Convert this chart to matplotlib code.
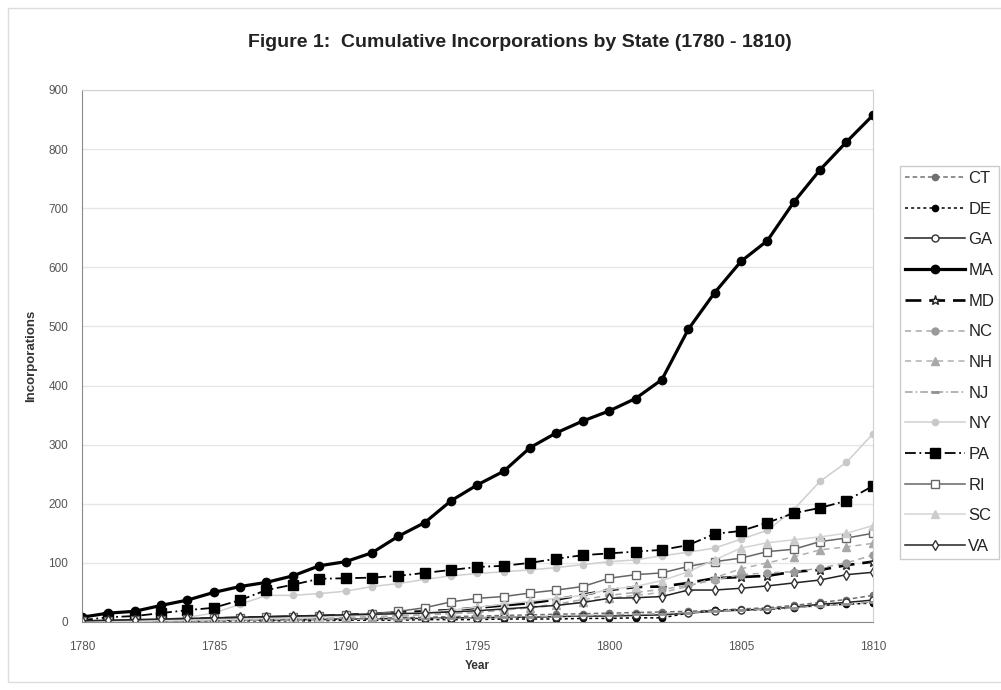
import numpy as np
import matplotlib
matplotlib.use('Agg')
import matplotlib.pyplot as plt
from matplotlib.patches import Rectangle

plt.rcParams['font.family'] = ['Liberation Sans', 'DejaVu Sans']

years = np.arange(1780, 1811)

# cumulative incorporations per state, 1780 - 1810
CT = [0, 1, 1, 2, 2, 3, 3, 4, 4, 5, 5, 6, 7, 8, 9, 10, 11, 12, 13, 14,
      15, 16, 17, 18, 20, 22, 24, 28, 33, 38, 45]
DE = [0, 0, 0, 1, 1, 1, 2, 2, 2, 2, 3, 3, 3, 4, 4, 4, 5, 5, 5, 6,
      6, 7, 7, 15, 20, 20, 21, 24, 28, 30, 32]
GA = [1, 1, 1, 2, 2, 3, 3, 3, 4, 4, 5, 5, 6, 6, 7, 7, 8, 8, 9, 10,
      10, 11, 12, 15, 18, 20, 22, 25, 30, 33, 37]
MA = [8, 15, 18, 28, 37, 50, 60, 67, 78, 95, 102, 117, 145, 168, 205, 232,
      255, 295, 320, 340, 357, 378, 410, 495, 557, 610, 645, 710, 765, 812, 857]
MD = [0, 1, 2, 3, 5, 6, 7, 8, 9, 10, 12, 14, 16, 18, 20, 24, 28, 32, 38, 46,
      54, 59, 60, 66, 74, 76, 78, 85, 88, 96, 102]
NC = [0, 0, 1, 1, 2, 3, 4, 5, 6, 7, 8, 9, 10, 12, 14, 16, 20, 25, 30, 38,
      45, 50, 55, 62, 71, 80, 83, 85, 91, 100, 113]
NH = [0, 0, 1, 1, 2, 2, 3, 4, 5, 6, 7, 8, 10, 12, 14, 17, 20, 24, 28, 34,
      40, 45, 50, 60, 75, 90, 100, 110, 122, 127, 133]
NJ = [0, 0, 1, 1, 2, 2, 3, 3, 3, 4, 4, 5, 5, 6, 6, 7, 8, 9, 10, 11,
      12, 13, 14, 16, 18, 20, 22, 24, 27, 30, 34]
NY = [0, 1, 2, 4, 8, 15, 30, 45, 45, 48, 52, 60, 65, 72, 78, 82, 85, 88, 92, 97,
      102, 105, 112, 118, 125, 140, 155, 190, 238, 270, 318]
PA = [3, 8, 10, 15, 20, 24, 37, 54, 63, 73, 74, 75, 78, 83, 88, 93, 95, 100,
      107, 113, 116, 119, 122, 130, 149, 154, 168, 184, 193, 205, 230]
RI = [1, 2, 3, 4, 5, 6, 7, 8, 9, 10, 12, 14, 18, 24, 34, 40, 43, 49, 54, 60,
      74, 80, 83, 94, 102, 108, 119, 123, 136, 142, 150]
SC = [0, 0, 1, 2, 3, 4, 5, 6, 7, 8, 10, 12, 14, 16, 20, 25, 30, 35, 40, 45,
      55, 60, 70, 85, 105, 125, 134, 139, 144, 150, 163]
VA = [2, 3, 4, 5, 6, 7, 8, 9, 10, 11, 12, 13, 14, 15, 17, 19, 22, 25, 28, 33,
      40, 41, 43, 54, 54, 57, 61, 66, 71, 80, 84]

series = [
    ('CT', CT, dict(color='#707070', ls=(0, (3, 2)), lw=1.1, marker='o', ms=4.5,
                    mfc='#707070', mec='#707070')),
    ('DE', DE, dict(color='black', ls=(0, (2, 2)), lw=1.1, marker='o', ms=4.5,
                    mfc='black', mec='black')),
    ('GA', GA, dict(color='#222222', ls='-', lw=1.1, marker='o', ms=5,
                    mfc='white', mec='#333333')),
    ('MA', MA, dict(color='black', ls='-', lw=2.3, marker='o', ms=6,
                    mfc='black', mec='black')),
    ('MD', MD, dict(color='black', ls=(0, (6, 3)), lw=1.9, marker='*', ms=6.5,
                    mfc='white', mec='#222222')),
    ('NC', NC, dict(color='#a8a8a8', ls=(0, (4, 3)), lw=1.1, marker='o', ms=5,
                    mfc='#9a9a9a', mec='#9a9a9a')),
    ('NH', NH, dict(color='#b0b0b0', ls=(0, (4, 3)), lw=1.1, marker='^', ms=5.5,
                    mfc='#a8a8a8', mec='#a8a8a8')),
    ('NJ', NJ, dict(color='#a0a0a0', ls=(0, (5, 2, 1, 2)), lw=1.1, marker='_', ms=6,
                    mfc='#909090', mec='#909090', mew=2)),
    ('NY', NY, dict(color='#cfcfcf', ls='-', lw=1.1, marker='o', ms=4.5,
                    mfc='#c8c8c8', mec='#c8c8c8')),
    ('PA', PA, dict(color='black', ls=(0, (6, 2, 1, 2)), lw=1.3, marker='s', ms=6.5,
                    mfc='black', mec='black')),
    ('RI', RI, dict(color='#666666', ls='-', lw=1.1, marker='s', ms=6,
                    mfc='white', mec='#666666')),
    ('SC', SC, dict(color='#d4d4d4', ls='-', lw=1.1, marker='^', ms=5.5,
                    mfc='#cccccc', mec='#cccccc')),
    ('VA', VA, dict(color='#222222', ls='-', lw=1.1, marker='d', ms=5.5,
                    mfc='white', mec='#333333')),
]

fig = plt.figure(figsize=(10.01, 6.90), dpi=100)
fig.patch.set_facecolor('white')
fig.patches.append(Rectangle((0.008, 0.012), 1.2, 0.976, transform=fig.transFigure,
                             fill=False, ec='#dcdcdc', lw=1.0))

ax = fig.add_axes([0.0819, 0.0986, 0.790, 0.771])
for name, vals, style in series:
    ax.plot(years, vals, label=name, **style)

ax.set_xlim(1780, 1810)
ax.set_ylim(0, 900)
ax.set_xticks(np.arange(1780, 1811, 5))
ax.set_yticks(np.arange(0, 901, 100))
ax.yaxis.grid(True, color='#e6e6e6', lw=1.0)
ax.set_axisbelow(True)
ax.tick_params(length=0, labelsize=8.5, labelcolor='#555555')
ax.tick_params(axis='x', pad=14)
ax.tick_params(axis='y', pad=10)
for side in ['left', 'bottom']:
    ax.spines[side].set_color('#8a8a8a')
for side in ['top', 'right']:
    ax.spines[side].set_color('#d0d0d0')

ax.set_xlabel('Year', fontsize=8.5, fontweight='bold', color='#333333', labelpad=5)
ax.set_ylabel('Incorporations', fontsize=9.5, fontweight='bold', color='#333333',
              labelpad=8)

fig.text(0.519, 0.938, 'Figure 1:  Cumulative Incorporations by State (1780 - 1810)',
         ha='center', va='center', fontsize=14, fontweight='bold', color='#222222')

fig.legend(loc='upper left', bbox_to_anchor=(900 / 1001, 1 - 166 / 690),
           fontsize=12, handlelength=3.6, labelspacing=0.94, handletextpad=0.2,
           borderpad=0.3, borderaxespad=0, fancybox=False, edgecolor='#cccccc',
           framealpha=1, labelcolor='#222222')

fig.savefig('out.png', dpi=100)
